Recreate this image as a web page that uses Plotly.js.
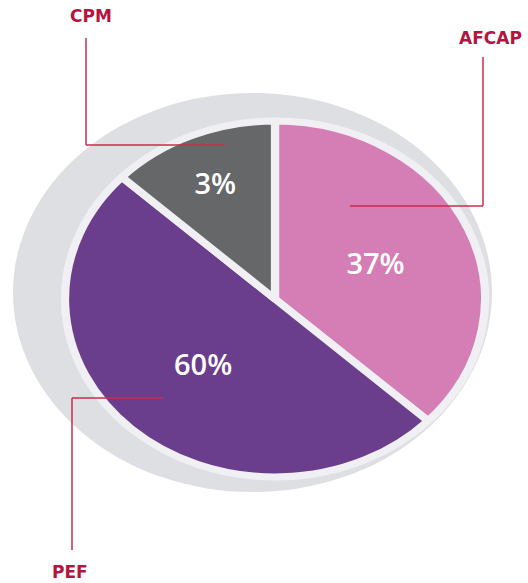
<!DOCTYPE html>
<html><head><meta charset="utf-8">
<script src="https://cdn.plot.ly/plotly-3.0.1.min.js"></script>
<style>html,body{margin:0;padding:0;background:#fff}</style>
</head><body><div id="chart" style="width:528px;height:583px"></div>
<script>
// categories, clockwise from 12 o'clock
const categories = ['AFCAP', 'PEF', 'CPM'];
// percentages printed on the slices
const printedPercent = [37, 60, 3];
// slice sizes as drawn in the picture (angles)
const drawnShare = [37, 50, 13];
const sliceColors = ['#d47eb5', '#6a3e8c', '#666768'];

const W = 528, H = 583;
const px = v => v / W, py = v => 1 - v / H;
const cx = 275, cy = 299, R = 178, stretch = 1.18;

const labelColor = '#b3153f', lineColor = '#cc2b4b';
const leaders = [
  [[86, 38], [86, 145], [225, 145]],
  [[483, 57], [483, 206], [350, 206]],
  [[72, 550], [72, 398], [163, 398]]
];
const shapes = [{
  type: 'circle', xref: 'paper', yref: 'paper', layer: 'below',
  x0: px(13), x1: px(492), y0: py(492), y1: py(93),
  fillcolor: '#dedfe2', line: {width: 0}
}];
leaders.forEach(pts => {
  for (let i = 0; i < pts.length - 1; i++) {
    shapes.push({type: 'line', xref: 'paper', yref: 'paper', layer: 'above',
      x0: px(pts[i][0]), y0: py(pts[i][1]), x1: px(pts[i+1][0]), y1: py(pts[i+1][1]),
      line: {color: lineColor, width: 1.5}});
  }
});
const labFont = {family: 'DejaVu Sans', size: 17, color: labelColor, weight: 700};
const annotations = [
  {text: 'CPM', x: px(91), y: py(16), xanchor: 'center'},
  {text: 'AFCAP', x: px(457), y: py(38), xanchor: 'left'},
  {text: 'PEF', x: px(70), y: py(572), xanchor: 'center'}
].map(a => Object.assign(a, {xref: 'paper', yref: 'paper', yanchor: 'middle', showarrow: false, font: labFont}));

const trace = {
  type: 'pie',
  labels: categories,
  values: drawnShare,
  text: printedPercent.map(v => v + '%'),
  textinfo: 'text',
  textposition: 'inside',
  insidetextorientation: 'horizontal',
  textfont: {family: 'Open Sans', size: 29, color: '#ffffff', weight: 600},
  sort: false,
  direction: 'clockwise',
  rotation: 0,
  marker: {colors: sliceColors, line: {color: '#f0eff3', width: 7}},
  domain: {x: [px(cx - R), px(cx + R)], y: [1 - (cy + R) / H, 1 - (cy - R) / H]},
  hoverinfo: 'none',
  showlegend: false
};

Plotly.newPlot('chart', [trace], {
  width: W, height: H,
  margin: {l: 0, r: 0, t: 0, b: 0},
  paper_bgcolor: '#ffffff',
  showlegend: false,
  shapes: shapes,
  annotations: annotations
}, {displayModeBar: false, staticPlot: true}).then(gd => {
  const layer = gd.querySelector('.pielayer');
  layer.setAttribute('transform', `translate(${cx},0) scale(${stretch},1) translate(${-cx},0)`);
  layer.querySelectorAll('text.slicetext').forEach(t => {
    const tr = t.getAttribute('transform') || '';
    t.setAttribute('transform', tr + ` scale(${1 / stretch},1)`);
  });
});
</script></body></html>
